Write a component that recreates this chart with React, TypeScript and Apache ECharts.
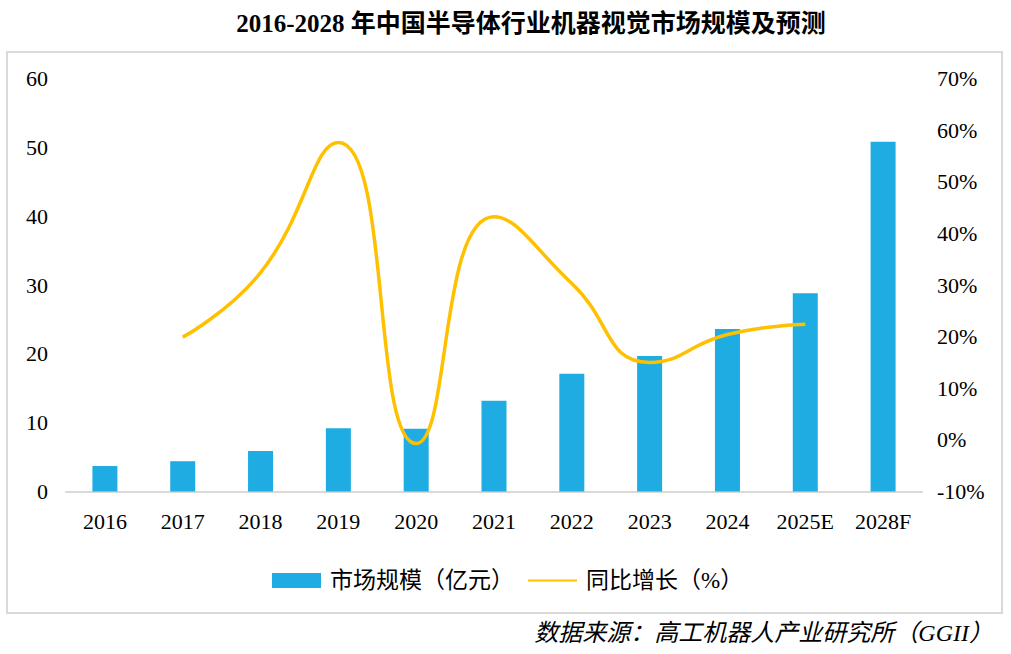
import React, { useEffect, useRef } from "react";
import * as echarts from "echarts";

const categories = ["2016", "2017", "2018", "2019", "2020", "2021", "2022", "2023", "2024", "2025E", "2028F"];
const marketSize = [3.7, 4.4, 5.9, 9.2, 9.1, 13.2, 17.1, 19.7, 23.6, 28.8, 50.8];
const growthRate = [null, 19.9, 32.4, 57.6, -0.7, 43.2, 30.3, 15.0, 20.4, 22.4, null];
const leftTicks = { min: 0, max: 60, interval: 10 };
const rightTicks = { min: -10, max: 70, interval: 10 };

const titleText = "2016-2028 年中国半导体行业机器视觉市场规模及预测";
const sourceText = "数据来源：高工机器人产业研究所（GGII）";
const barName = "市场规模（亿元）";
const lineName = "同比增长（%）";

const FONT = "'Liberation Serif', 'Noto Sans CJK SC', serif";

export default function App() {
  const ref = useRef<HTMLDivElement>(null);
  useEffect(() => {
    document.body.style.margin = "0";
    const chart = echarts.init(ref.current!, undefined, { renderer: "svg" });
    chart.setOption({
      animation: false,
      backgroundColor: "#fff",
      textStyle: { fontFamily: FONT },
      grid: { left: 66, right: 89, top: 78.5, bottom: 162.5, containLabel: false },
      legend: {
        left: 272,
        top: 569,
        padding: 0,
        itemWidth: 49,
        itemHeight: 15,
        itemGap: 13,
        textStyle: { fontSize: 23, color: "#000", fontFamily: FONT, padding: [0, 0, 0, 4] },
        data: [
          { name: barName, icon: "rect" },
          { name: lineName, itemStyle: { opacity: 0 } },
        ],
      },
      xAxis: {
        type: "category",
        data: categories,
        axisLine: { lineStyle: { color: "#D9D9D9", width: 2 } },
        axisTick: { show: false },
        axisLabel: { fontSize: 22, color: "#000", margin: 19, fontFamily: FONT },
      },
      yAxis: [
        {
          type: "value",
          min: leftTicks.min,
          max: leftTicks.max,
          interval: leftTicks.interval,
          splitLine: { show: false },
          axisLine: { show: false },
          axisTick: { show: false },
          axisLabel: { fontSize: 22, color: "#000", margin: 18, fontFamily: FONT },
        },
        {
          type: "value",
          position: "right",
          min: rightTicks.min,
          max: rightTicks.max,
          interval: rightTicks.interval,
          splitLine: { show: false },
          axisLine: { show: false },
          axisTick: { show: false },
          axisLabel: { fontSize: 22, color: "#000", margin: 15, formatter: "{value}%", fontFamily: FONT },
        },
      ],
      series: [
        {
          name: barName,
          type: "bar",
          data: marketSize,
          barWidth: 25,
          itemStyle: { color: "#1EACE2" },
        },
        {
          name: lineName,
          type: "line",
          yAxisIndex: 1,
          data: growthRate,
          smooth: 0.5,
          symbol: "none",
          lineStyle: { color: "#FFC000", width: 3.5 },
          itemStyle: { color: "#FFC000" },
        },
      ],
      graphic: [
        {
          type: "rect",
          shape: { x: 7, y: 52, width: 995, height: 561 },
          style: { fill: "none", stroke: "#D9D9D9", lineWidth: 2 },
          silent: true,
        },
        {
          type: "text",
          x: 531,
          y: 23,
          style: {
            text: titleText,
            fontSize: 25,
            fontWeight: "bold",
            fontFamily: FONT,
            fill: "#000",
            textAlign: "center",
            textVerticalAlign: "middle",
          },
        },
        {
          type: "text",
          x: 993,
          y: 633,
          style: {
            text: sourceText,
            fontSize: 24,
            fontStyle: "italic",
            fontFamily: FONT,
            fill: "#000",
            textAlign: "right",
            textVerticalAlign: "middle",
          },
        },
      ],
    });
    return () => chart.dispose();
  }, []);
  return <div ref={ref} style={{ width: 1011, height: 654 }} />;
}
